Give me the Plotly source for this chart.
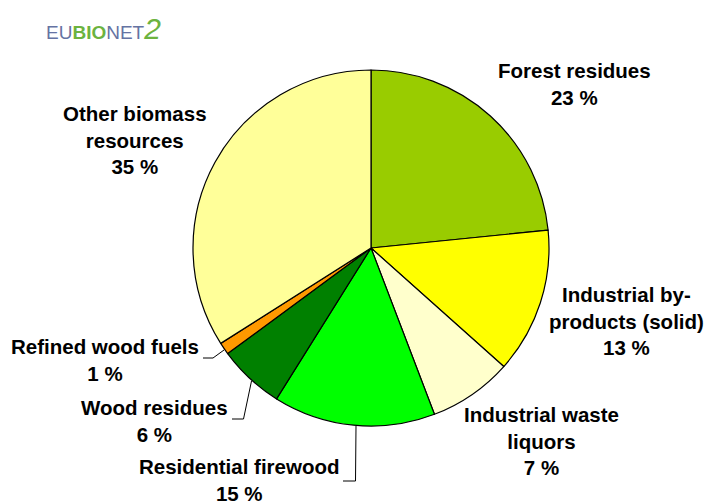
import plotly.graph_objects as go

W, H = 705, 502

categories = ["Forest residues", "Industrial by-products (solid)", "Industrial waste liquors",
              "Residential firewood", "Wood residues", "Refined wood fuels", "Other biomass resources"]
values = [23.4, 13.2, 7.6, 14.7, 6.0, 1.1, 34.0]
pct_labels = ["23 %", "13 %", "7 %", "15 %", "6 %", "1 %", "35 %"]
label_lines = [["Forest residues"], ["Industrial by-", "products (solid)"], ["Industrial waste", "liquors"],
               ["Residential firewood"], ["Wood residues"], ["Refined wood fuels"], ["Other biomass", "resources"]]
colors = ["#99CC00", "#FFFF00", "#FFFFCC", "#00FF00", "#008000", "#FF9900", "#FFFF99"]

# label block centres in pixels (layout)
label_pos = [(574, 84), (626, 321), (541, 441), (239, 480), (154, 421), (105, 360), (135, 140)]

# leader lines in pixels (layout)
leaders = [
    [(224, 350), (213, 358), (203, 358)],
    [(251.5, 381), (243.5, 419), (232, 419)],
    [(356, 426), (355.5, 481), (343, 481)],
]

def px(x, y):
    return x / W, 1 - y / H

fig = go.Figure(go.Pie(
    labels=categories, values=values, sort=False, direction="clockwise", rotation=0,
    marker=dict(colors=colors, line=dict(color="black", width=1.2)),
    textinfo="none", hoverinfo="label+percent",
    domain=dict(x=[193 / W, 549 / W], y=[1 - 426 / H, 1 - 70 / H]),
))

annotations = []
for lines, pct, (cx, cy) in zip(label_lines, pct_labels, label_pos):
    x, y = px(cx, cy)
    annotations.append(dict(
        text="<br>".join(lines + [pct]), x=x, y=y, xref="paper", yref="paper",
        showarrow=False, align="center", xanchor="center", yanchor="middle",
        font=dict(family="Liberation Sans, Arial", size=20.5, color="black", weight="bold"),
    ))

# logo
lx, ly = px(44, 29)
annotations.append(dict(
    text="<span style='color:#6573a3'>EU</span><b><span style='color:#6cb33f'>BIO</span></b>"
         "<span style='color:#6573a3'>NET</span><i><span style='color:#6cb33f;font-size:30px'>2</span></i>",
    x=lx, y=ly, xref="paper", yref="paper", showarrow=False, xanchor="left", yanchor="middle",
    font=dict(family="Liberation Sans Narrow, Liberation Sans", size=19),
))

shapes = []
for pts in leaders:
    path = "M " + " L ".join(f"{px(x, y)[0]},{px(x, y)[1]}" for x, y in pts)
    shapes.append(dict(type="path", path=path, xref="paper", yref="paper",
                       line=dict(color="black", width=1)))

fig.update_layout(
    width=W, height=H, margin=dict(l=0, r=0, t=0, b=0),
    paper_bgcolor="white", plot_bgcolor="white", showlegend=False,
    annotations=annotations, shapes=shapes,
)

fig.write_html("out.html", config={"displayModeBar": False},
               post_script="document.body.style.margin='0';document.body.style.overflow='hidden';")
